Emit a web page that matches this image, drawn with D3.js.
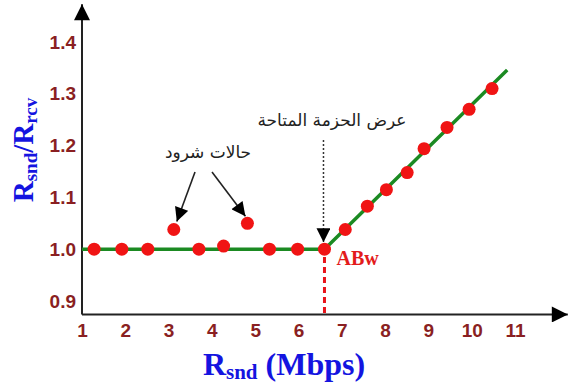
<!DOCTYPE html>
<html><head><meta charset="utf-8">
<script src="https://cdn.jsdelivr.net/npm/d3@7"></script>
<style>body{margin:0;background:#fff}</style>
</head><body>
<svg id="c" width="570" height="383"></svg>
<script>
const xTicks = [1,2,3,4,5,6,7,8,9,10,11];
const yTicks = [0.9,1.0,1.1,1.2,1.3,1.4];
const flatX = [1.28,1.92,2.52,3.12,3.70,4.27,4.82,5.33,5.98,6.60];
const flatY = [1.0,1.0,1.0,1.038,1.0,1.006,1.05,1.0,1.0,1.0];
const riseX = [7.08,7.59,8.03,8.51,8.90,9.43,9.94,10.47];
const riseY = [1.038,1.083,1.115,1.148,1.194,1.235,1.27,1.31];
const lineX = [1.0,6.6,10.82];
const lineY = [1.0,1.0,1.346];
const abw = 6.6;
const labelA = "حالات شرود";
const labelB = "عرض الحزمة المتاحة";

const svg = d3.select("#c");
const x = d3.scaleLinear().domain([1,11]).range([82,515]);
const y = d3.scaleLinear().domain([0.9,1.4]).range([301,42]);

const defs = svg.append("defs");
function marker(id, w, h){
  defs.append("marker").attr("id",id).attr("viewBox","0 0 10 10").attr("refX",10).attr("refY",5)
    .attr("markerWidth",w).attr("markerHeight",h).attr("markerUnits","userSpaceOnUse").attr("orient","auto")
    .append("path").attr("d","M0,0L10,5L0,10Z").attr("fill","#000");
}
marker("ax",20,16);
marker("ar",16,14);

// axes lines
svg.append("line").attr("x1",x(1)).attr("x2",x(12.22)).attr("y1",y(0.874)).attr("y2",y(0.874))
  .attr("stroke","#222").attr("stroke-width",2).attr("marker-end","url(#ax)");
svg.append("line").attr("x1",x(1)).attr("x2",x(1)).attr("y1",y(0.874)).attr("y2",y(1.473))
  .attr("stroke","#222").attr("stroke-width",2).attr("marker-end","url(#ax)");

const tickStyle = s => s.attr("fill","#8a1f22").attr("font-family","Liberation Sans, Arial, sans-serif")
  .attr("font-weight","bold").attr("font-size","19px");

const gx = svg.append("g").attr("transform",`translate(0,${y(0.874)})`)
  .call(d3.axisBottom(x).tickValues(xTicks).tickSize(0).tickPadding(9).tickFormat(d3.format("d")));
gx.select(".domain").remove();
gx.selectAll("text").call(tickStyle);

const gy = svg.append("g").attr("transform",`translate(${x(1)},0)`)
  .call(d3.axisLeft(y).tickValues(yTicks).tickSize(0).tickPadding(6).tickFormat(d3.format(".1f")));
gy.select(".domain").remove();
gy.selectAll("text").call(tickStyle);

// dashed ABw line
svg.append("line").attr("x1",x(abw)).attr("x2",x(abw)).attr("y1",y(0.985)).attr("y2",y(0.874))
  .attr("stroke","#e8141a").attr("stroke-width",3).attr("stroke-dasharray","6,4");

// green line
svg.append("path").datum(lineX.map((v,i)=>[v,lineY[i]]))
  .attr("d",d3.line().x(d=>x(d[0])).y(d=>y(d[1])))
  .attr("fill","none").attr("stroke","#1b8a22").attr("stroke-width",3.5);

// points
const pts = flatX.map((v,i)=>[v,flatY[i]]).concat(riseX.map((v,i)=>[v,riseY[i]]));
svg.selectAll("circle.p").data(pts).enter().append("circle")
  .attr("cx",d=>x(d[0])).attr("cy",d=>y(d[1])).attr("r",6.5).attr("fill","#f01414");

// ABw label
svg.append("text").attr("x",x(abw)+12).attr("y",y(1.0)+16).text("ABw")
  .attr("fill","#e31b1b").attr("font-family","Liberation Serif, Times New Roman, serif")
  .attr("font-weight","bold").attr("font-size","20px");

// Arabic annotations
const arab = s => s.attr("font-family","DejaVu Sans, sans-serif").attr("font-size","17px").attr("fill","#222")
  .attr("text-anchor","middle").attr("direction","rtl");
svg.append("text").attr("x",208).attr("y",158).text(labelA).call(arab);
svg.append("text").attr("x",332).attr("y",126).text(labelB).call(arab);

// solid arrows to outliers
const outA = [3.12,1.038], outB = [4.82,1.05];
svg.append("line").attr("x1",195).attr("y1",172).attr("x2",x(outA[0])+3).attr("y2",y(outA[1])-8)
  .attr("stroke","#222").attr("stroke-width",1.6).attr("marker-end","url(#ar)");
svg.append("line").attr("x1",212).attr("y1",172).attr("x2",x(outB[0])-2).attr("y2",y(outB[1])-7)
  .attr("stroke","#222").attr("stroke-width",1.6).attr("marker-end","url(#ar)");

// dotted arrow to ABw
svg.append("line").attr("x1",x(abw)-1).attr("y1",140).attr("x2",x(abw)-1).attr("y2",y(1.0)-7)
  .attr("stroke","#333").attr("stroke-width",1.5).attr("stroke-dasharray","2,2").attr("marker-end","url(#ar)");

// axis titles
const ttl = s => s.attr("fill","#1414e0").attr("font-family","Liberation Serif, Times New Roman, serif").attr("font-weight","bold");
const xt = svg.append("text").attr("x",284).attr("y",375).attr("text-anchor","middle").call(ttl).attr("font-size","32px");
xt.append("tspan").text("R");
xt.append("tspan").text("snd").attr("font-size","21px").attr("dy",4);
xt.append("tspan").text(" (Mbps)").attr("dy",-4);

const yt = svg.append("text").attr("transform","translate(33,150) rotate(-90)").attr("text-anchor","middle").call(ttl).attr("font-size","29px");
yt.append("tspan").text("R");
yt.append("tspan").text("snd").attr("font-size","19px").attr("dy",4);
yt.append("tspan").text("/R").attr("dy",-4);
yt.append("tspan").text("rcv").attr("font-size","19px").attr("dy",4);
</script>
</body></html>
